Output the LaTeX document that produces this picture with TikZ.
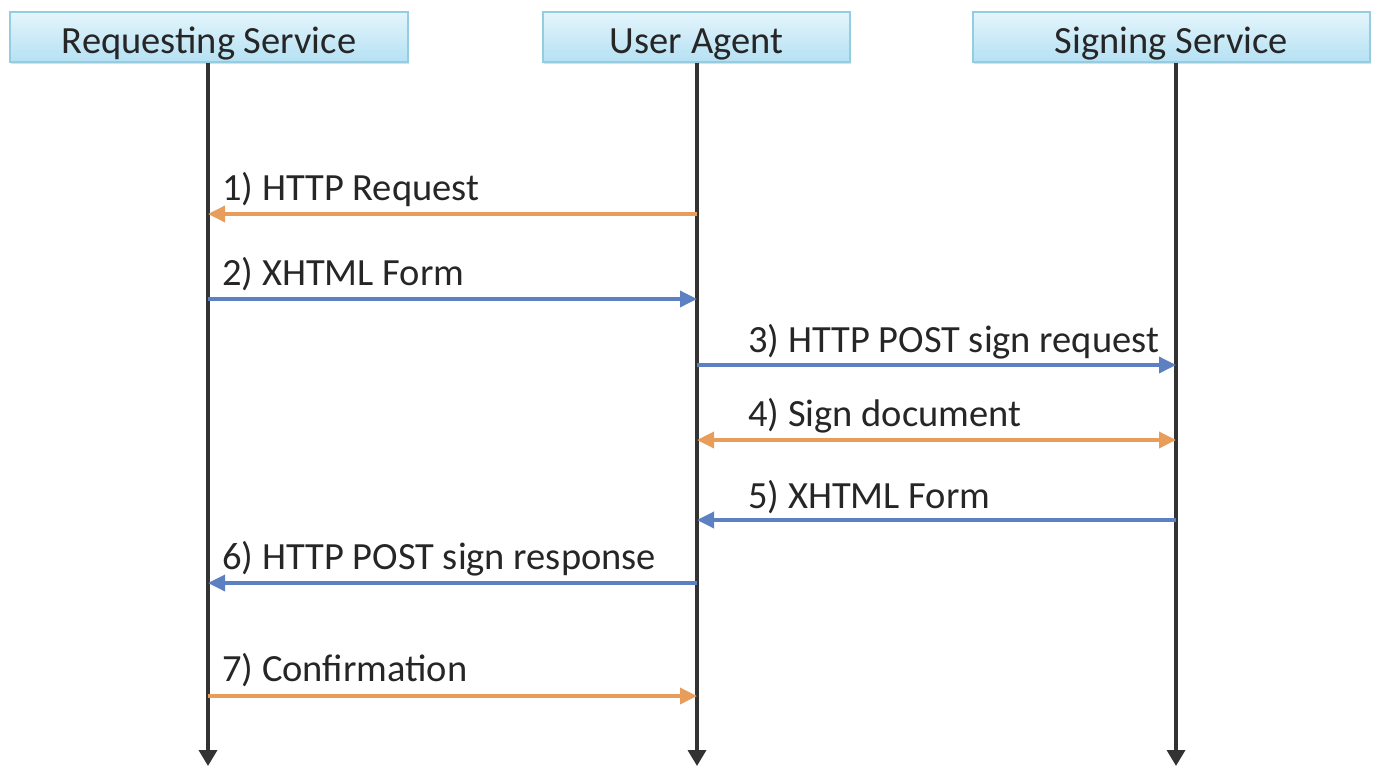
\documentclass[tikz,border=0pt]{standalone}
\usepackage{fontspec}
\setmainfont{Carlito}
\usetikzlibrary{arrows.meta,shadows}
\definecolor{ora}{HTML}{E89E5A}
\definecolor{blu}{HTML}{5C80C2}
\definecolor{boxtop}{HTML}{E4F5FC}
\definecolor{boxbot}{HTML}{B5E1F3}
\definecolor{boxline}{HTML}{96CCE0}
\definecolor{life}{HTML}{333333}
\tikzset{
  actor/.style={draw=boxline, line width=1.5pt, top color=boxtop, bottom color=boxbot,
    minimum height=50pt, inner sep=0pt, font=\fontsize{38.5}{44}\selectfont, text=black!85,
    text height=34pt, text depth=2pt,
    drop shadow={shadow xshift=1pt, shadow yshift=-2pt, opacity=0.25}},
  lifeline/.style={draw=life, line width=3.5pt, -{Triangle[length=16pt,width=18pt]}},
  msgb/.style={draw=blu, line width=3.5pt, -{Triangle[length=17pt,width=16pt]}},
  msgo/.style={draw=ora, line width=3.5pt, -{Triangle[length=17pt,width=16pt]}},
  msgob/.style={draw=ora, line width=3.5pt, {Triangle[length=17pt,width=16pt]}-{Triangle[length=17pt,width=16pt]}},
  lbl/.style={anchor=base west, inner sep=0pt, font=\fontsize{38.5}{44}\selectfont, text=black!85}
}
\begin{document}
\begin{tikzpicture}[x=1pt,y=-1pt]
\useasboundingbox (0,0) rectangle (1380,766);
% actors
\node[actor, minimum width=398pt] (rs) at (209,37) {Requesting Service};
\node[actor, minimum width=307pt] (ua) at (696.5,37) {User Agent};
\node[actor, minimum width=397pt] (ss) at (1171.5,37) {Signing Service};
% lifeline ends
\coordinate (rsE) at (208,766);
\coordinate (uaE) at (697,766);
\coordinate (ssE) at (1176,766);
\draw[lifeline] (rs.south -| rsE) -- (rsE);
\draw[lifeline] (ua.south -| uaE) -- (uaE);
\draw[lifeline] (ss.south -| ssE) -- (ssE);
% message points
\coordinate (a1) at (697,214); \coordinate (b1) at (208,214);
\coordinate (a2) at (208,299); \coordinate (b2) at (697,299);
\coordinate (a3) at (697,365); \coordinate (b3) at (1176,365);
\coordinate (a4) at (697,440); \coordinate (b4) at (1176,440);
\coordinate (a5) at (1176,520); \coordinate (b5) at (697,520);
\coordinate (a6) at (697,583); \coordinate (b6) at (208,583);
\coordinate (a7) at (208,696); \coordinate (b7) at (697,696);
\draw[msgo] (a1) -- (b1);
\draw[msgb] (a2) -- (b2);
\draw[msgb] (a3) -- (b3);
\draw[msgob] (a4) -- (b4);
\draw[msgb] (a5) -- (b5);
\draw[msgb] (a6) -- (b6);
\draw[msgo] (a7) -- (b7);
% labels
\node[lbl] (l1) at (222,200) {1) HTTP Request};
\node[lbl] (l2) at (222,285) {2) XHTML Form};
\node[lbl] (l3) at (748,352) {3) HTTP POST sign request};
\node[lbl] (l4) at (748,426) {4) Sign document};
\node[lbl] (l5) at (748,508) {5) XHTML Form};
\node[lbl] (l6) at (222,569) {6) HTTP POST sign response};
\node[lbl] (l7) at (222,681) {7) Confirmation};
\end{tikzpicture}
\end{document}
